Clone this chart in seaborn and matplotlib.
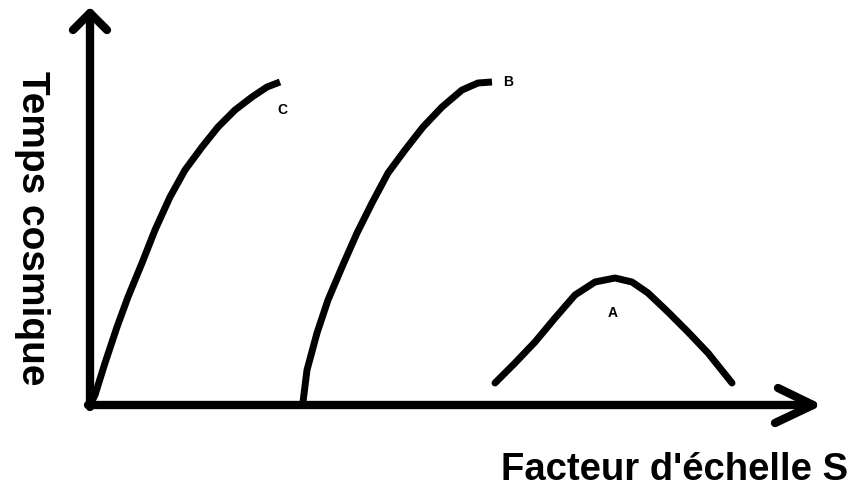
import matplotlib.pyplot as plt
import seaborn as sns

# curves (x = scale factor, y = cosmic time, arbitrary units)
c_x = [0, 5, 15, 27, 38, 52, 65, 80, 95, 112, 128, 145, 162, 177, 190]
c_y = [0, 10, 42, 78, 108, 142, 175, 208, 235, 258, 278, 295, 308, 318, 323]

b_x = [213, 217, 227, 238, 252, 267, 282, 298, 315, 333, 352, 372, 388, 402]
b_y = [3, 35, 72, 105, 138, 172, 202, 232, 255, 278, 298, 315, 322, 323]

a_x = [405, 425, 445, 465, 485, 505, 525, 542, 558, 578, 598, 618, 642]
a_y = [22, 42, 63, 87, 110, 123, 127, 123, 112, 93, 73, 52, 22]

curve_names = ["C", "B", "A"]

sns.set_style("white")
plt.rcParams['font.family'] = ['Liberation Sans', 'DejaVu Sans']
plt.rcParams['text.color'] = 'black'

fig = plt.figure(figsize=(8.52, 4.88), dpi=100)
ax = fig.add_axes([0, 0, 1, 1])
ax.set_xlim(-90, 762)
ax.set_ylim(-83, 405)
ax.axis("off")

sns.lineplot(x=c_x, y=c_y, sort=False, color="black", lw=5, ax=ax,
             solid_capstyle="butt", solid_joinstyle="round")
sns.lineplot(x=b_x, y=b_y, sort=False, color="black", lw=5, ax=ax,
             solid_capstyle="butt", solid_joinstyle="round")
sns.lineplot(x=a_x, y=a_y, sort=False, color="black", lw=5, ax=ax,
             solid_capstyle="round", solid_joinstyle="round")

# axes drawn as thick arrows
ax.plot([-2, 723], [0, 0], color="black", lw=6, solid_capstyle="round")
ax.plot([688, 723, 685], [17, 0, -18], color="black", lw=6, solid_capstyle="round", solid_joinstyle="round")
ax.plot([0, 0], [-2, 392], color="black", lw=6, solid_capstyle="round")
ax.plot([-17, 0, 17], [375, 392, 375], color="black", lw=6, solid_capstyle="round", solid_joinstyle="round")

ax.text(192, 295, curve_names[0], fontsize=10, fontweight="bold", ha="center", va="center", color="black")
ax.text(418, 323, curve_names[1], fontsize=10, fontweight="bold", ha="center", va="center", color="black")
ax.text(523, 92, curve_names[2], fontsize=10, fontweight="bold", ha="center", va="center", color="black")

ax.text(758, -65, "Facteur d'échelle S", fontsize=27.5, fontweight="bold", ha="right", va="center", color="black")
ax.text(-58, 177, "Temps cosmique", fontsize=28, fontweight="bold", ha="center", va="center", rotation=-90, color="black")

fig.savefig("out.png", dpi=100)
